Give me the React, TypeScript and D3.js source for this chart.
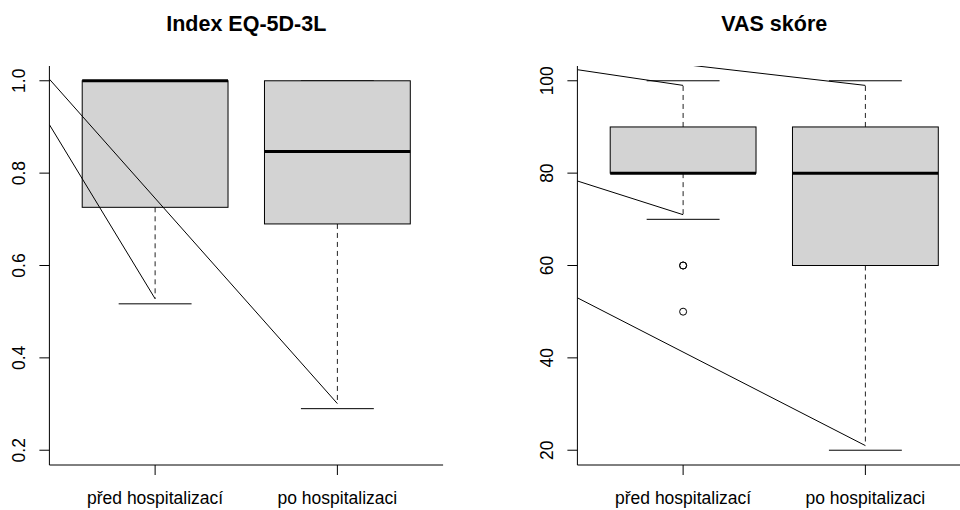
import React from "react";
import * as d3 from "d3";

// Group labels on the x axis
const groups = ["před hospitalizací", "po hospitalizaci"];

// Index EQ-5D-3L: box statistics per group
const eqCapLow = [0.517, 0.29];
const eqWhiskLow = [0.528, 0.301];
const eqQ1 = [0.726, 0.69];
const eqMedian = [1.0, 0.847];
const eqQ3 = [1.0, 1.0];
const eqWhiskHigh = [1.0, 1.0];
const eqCapHigh = [1.0, 1.0];
const eqOutliers: number[][] = [[], []];
const eqTicks = [0.2, 0.4, 0.6, 0.8, 1.0];
const eqTickLabels = ["0.2", "0.4", "0.6", "0.8", "1.0"];
// Connecting lines drawn over the EQ-5D panel (x in group units)
const eqLines = [
  [[0.42, 1.0035], [2, 0.301]],
  [[0.42, 0.905], [1, 0.528]],
];

// VAS skóre: box statistics per group
const vasCapLow = [70, 20];
const vasWhiskLow = [71, 21];
const vasQ1 = [80, 60];
const vasMedian = [80, 80];
const vasQ3 = [90, 90];
const vasWhiskHigh = [99, 99];
const vasCapHigh = [100, 100];
const vasOutliers: number[][] = [[60, 60, 50], []];
const vasTicks = [20, 40, 60, 80, 100];
const vasTickLabels = ["20", "40", "60", "80", "100"];
const vasLines = [
  [[0.42, 102.4], [1, 99]],
  [[1.056, 103.3], [2, 99]],
  [[0.42, 78.3], [1, 71]],
  [[0.42, 53], [2, 21]],
];

type PanelProps = {
  id: string;
  left: number;
  title: string;
  yDomain: [number, number];
  capLow: number[];
  whiskLow: number[];
  q1: number[];
  median: number[];
  q3: number[];
  whiskHigh: number[];
  capHigh: number[];
  outliers: number[][];
  ticks: number[];
  tickLabels: string[];
  lines: number[][][];
};

const PLOT_W = 393.7;
const TOP = 66;
const BOTTOM = 465;
const FONT = "'Liberation Sans', Arial, sans-serif";

function Panel(p: PanelProps) {
  const [lo, hi] = p.yDomain;
  const pad = (hi - lo) * 0.04;
  const x = d3.scaleLinear().domain([0.42, 2.58]).range([p.left, p.left + PLOT_W]);
  const y = d3.scaleLinear().domain([lo - pad, hi + pad]).range([BOTTOM, TOP]);
  const unit = x(1) - x(0);
  const boxHalf = unit * 0.4;
  const capHalf = unit * 0.2;
  const line = d3
    .line<number[]>()
    .x((d) => x(d[0]))
    .y((d) => y(d[1]));
  const cx = (p.left + p.left + PLOT_W) / 2;

  return (
    <g>
      <defs>
        <clipPath id={p.id}>
          <rect x={p.left} y={TOP} width={PLOT_W} height={BOTTOM - TOP} />
        </clipPath>
      </defs>
      <text
        x={cx}
        y={31}
        textAnchor="middle"
        fontFamily={FONT}
        fontWeight="bold"
        fontSize={21.5}
      >
        {p.title}
      </text>
      {groups.map((g, i) => {
        const gx = x(i + 1);
        return (
          <g key={g}>
            {/* whiskers */}
            <line x1={gx} x2={gx} y1={y(p.q1[i])} y2={y(p.whiskLow[i])} stroke="#222" strokeDasharray="5,4" />
            <line x1={gx} x2={gx} y1={y(p.q3[i])} y2={y(p.whiskHigh[i])} stroke="#222" strokeDasharray="5,4" />
            <line x1={gx - capHalf} x2={gx + capHalf} y1={y(p.capLow[i])} y2={y(p.capLow[i])} stroke="#000" />
            <line x1={gx - capHalf} x2={gx + capHalf} y1={y(p.capHigh[i])} y2={y(p.capHigh[i])} stroke="#000" />
            {/* box */}
            <rect
              x={gx - boxHalf}
              y={y(p.q3[i])}
              width={boxHalf * 2}
              height={y(p.q1[i]) - y(p.q3[i])}
              fill="#d3d3d3"
              stroke="#000"
            />
            <line x1={gx - boxHalf} x2={gx + boxHalf} y1={y(p.median[i])} y2={y(p.median[i])} stroke="#000" strokeWidth={3} />
            {p.outliers[i].map((v, k) => (
              <circle key={k} cx={gx} cy={y(v)} r={3.5} fill="none" stroke="#000" />
            ))}
          </g>
        );
      })}
      <g clipPath={`url(#${p.id})`}>
        {p.lines.map((l, k) => (
          <path key={k} d={line(l) ?? ""} fill="none" stroke="#000" />
        ))}
      </g>
      {/* frame: left and bottom */}
      <path d={`M${p.left},${TOP}V${BOTTOM}H${p.left + PLOT_W}`} fill="none" stroke="#000" />
      {/* y axis */}
      {p.ticks.map((t, k) => (
        <g key={t}>
          <line x1={p.left - 10} x2={p.left} y1={y(t)} y2={y(t)} stroke="#000" />
          <text
            transform={`translate(${p.left - 24.5},${y(t)}) rotate(-90)`}
            textAnchor="middle"
            fontFamily={FONT}
            fontSize={17.5}
          >
            {p.tickLabels[k]}
          </text>
        </g>
      ))}
      {/* x axis */}
      {groups.map((g, i) => (
        <g key={g}>
          <line x1={x(i + 1)} x2={x(i + 1)} y1={BOTTOM} y2={BOTTOM + 10} stroke="#000" />
          <text x={x(i + 1)} y={503.5} textAnchor="middle" fontFamily={FONT} fontSize={17.5}>
            {g}
          </text>
        </g>
      ))}
    </g>
  );
}

export default function App() {
  return (
    <svg
      width={960}
      height={510}
      style={{ position: "absolute", left: 0, top: 0, background: "#fff" }}
    >
      <rect width={960} height={510} fill="#fff" />
      <Panel
        id="clip-eq"
        left={49.4}
        title="Index EQ-5D-3L"
        yDomain={[0.2, 1.0]}
        capLow={eqCapLow}
        whiskLow={eqWhiskLow}
        q1={eqQ1}
        median={eqMedian}
        q3={eqQ3}
        whiskHigh={eqWhiskHigh}
        capHigh={eqCapHigh}
        outliers={eqOutliers}
        ticks={eqTicks}
        tickLabels={eqTickLabels}
        lines={eqLines}
      />
      <Panel
        id="clip-vas"
        left={577.4}
        title="VAS skóre"
        yDomain={[20, 100]}
        capLow={vasCapLow}
        whiskLow={vasWhiskLow}
        q1={vasQ1}
        median={vasMedian}
        q3={vasQ3}
        whiskHigh={vasWhiskHigh}
        capHigh={vasCapHigh}
        outliers={vasOutliers}
        ticks={vasTicks}
        tickLabels={vasTickLabels}
        lines={vasLines}
      />
    </svg>
  );
}
